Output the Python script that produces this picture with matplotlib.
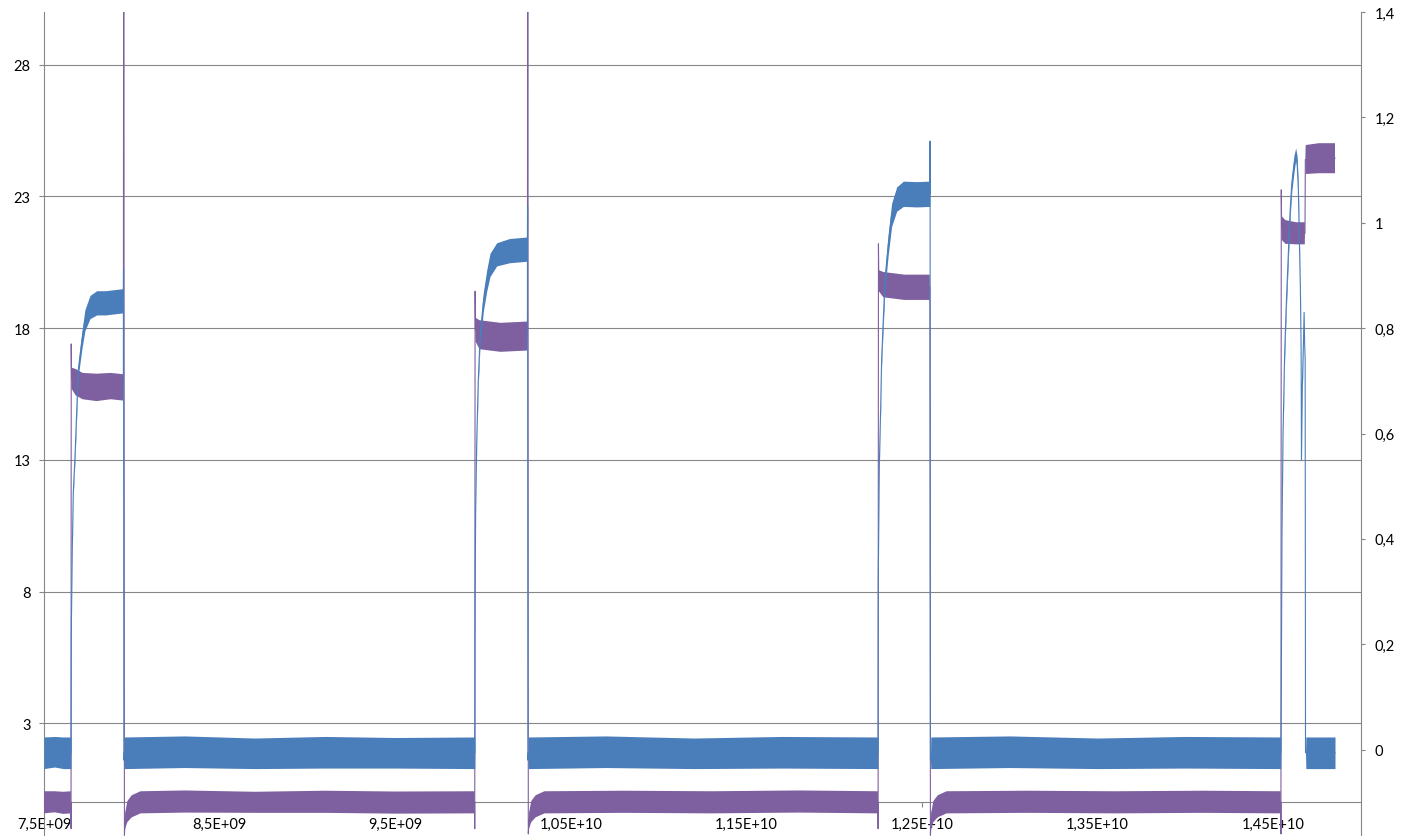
import matplotlib.pyplot as plt
import numpy as np

plt.rcParams['font.family'] = ['Lato', 'DejaVu Sans']

# x values in units of 1e9
purple_x = [7.500, 7.560, 7.610, 7.653, 7.6535, 7.654, 7.655, 7.657, 7.680, 7.720, 7.800, 7.880, 7.951,
            7.952, 7.954, 7.958, 7.962, 7.975, 8.000, 8.050, 8.300, 8.700, 9.100, 9.500, 9.952,
            9.9525, 9.953, 9.955, 9.957, 9.980, 10.100, 10.252, 10.253, 10.255, 10.258, 10.262, 10.275,
            10.300, 10.350, 10.800, 11.300, 11.800, 12.249,
            12.2495, 12.250, 12.252, 12.254, 12.280, 12.400, 12.544, 12.545, 12.548, 12.552, 12.565,
            12.590, 12.640, 13.100, 13.600, 14.100, 14.543,
            14.5435, 14.544, 14.546, 14.548, 14.570, 14.630, 14.680, 14.681, 14.683, 14.685, 14.760, 14.852]
purple_y = [0.00, 0.02, -0.02, 0.00, 0.00, -1.0, 17.4, 16.1, 15.95, 15.8, 15.75, 15.8, 15.75,
            15.75, 40.0, -1.25, -0.7, -0.35, -0.15, 0.0, 0.03, 0.0, 0.02, -0.01, 0.0,
            0.0, -1.0, 19.4, 17.95, 17.75, 17.65, 17.7, 17.7, 40.0, -1.2, -0.7, -0.35,
            -0.15, 0.0, 0.02, 0.0, 0.03, 0.0,
            0.0, -1.0, 21.2, 19.8, 19.65, 19.55, 19.55, 19.55, -1.25, -0.7, -0.35,
            -0.15, 0.0, 0.02, 0.0, 0.02, 0.0,
            0.0, -1.2, 23.25, 21.8, 21.65, 21.6, 21.6, 21.6, 24.4, 24.4, 24.45, 24.45]
purple_n = [0.42, 0.40, 0.42, 0.42, 0, 0, 0, 0.40, 0.50, 0.50, 0.52, 0.50, 0.50,
            0, 0, 0, 0.30, 0.40, 0.42, 0.42, 0.42, 0.40, 0.42, 0.42, 0.42,
            0, 0, 0, 0.45, 0.55, 0.55, 0.55, 0, 0, 0, 0.30, 0.40,
            0.42, 0.42, 0.42, 0.42, 0.42, 0.42,
            0, 0, 0, 0.40, 0.48, 0.48, 0.48, 0, 0, 0.30, 0.40,
            0.42, 0.42, 0.42, 0.42, 0.42, 0.42,
            0, 0, 0, 0.45, 0.45, 0.42, 0.42, 0, 0, 0.55, 0.57, 0.57]

blue_x = [7.500, 7.560, 7.610, 7.653, 7.654, 7.655, 7.661, 7.667, 7.677, 7.695, 7.715, 7.733, 7.762,
          7.800, 7.850, 7.900, 7.951, 7.952, 7.953, 7.955, 7.957, 8.300, 8.700, 9.100, 9.500, 9.953,
          9.954, 9.955, 9.958, 9.964, 9.973, 9.983, 10.002, 10.021, 10.040, 10.078, 10.150, 10.252,
          10.253, 10.254, 10.256, 10.258, 10.700, 11.200, 11.700, 12.249,
          12.250, 12.251, 12.257, 12.265, 12.270, 12.280, 12.289, 12.308, 12.327, 12.356, 12.394,
          12.470, 12.544, 12.545, 12.546, 12.548, 12.550, 13.000, 13.500, 14.000, 14.543,
          14.544, 14.546, 14.550, 14.556, 14.565, 14.575, 14.586, 14.596, 14.606, 14.620, 14.628,
          14.636, 14.643, 14.650, 14.655, 14.659, 14.661, 14.666, 14.672, 14.676, 14.679, 14.682,
          14.684, 14.686, 14.852]
blue_y = [-0.006, -0.004, -0.006, -0.006, -0.006, 0.21, 0.38, 0.49, 0.56, 0.72, 0.775, 0.815, 0.840,
          0.848, 0.848, 0.850, 0.852, 0.852, 0.912, -0.02, -0.006, -0.004, -0.007, -0.005, -0.006, -0.006,
          -0.006, 0.265, 0.45, 0.58, 0.70, 0.78, 0.85, 0.89, 0.92, 0.94, 0.947, 0.95,
          0.95, 1.03, -0.02, -0.006, -0.004, -0.007, -0.005, -0.006,
          -0.006, 0.324, 0.54, 0.655, 0.74, 0.82, 0.89, 0.96, 1.015, 1.045, 1.055,
          1.054, 1.055, 1.055, 1.155, -0.02, -0.006, -0.004, -0.007, -0.005, -0.006,
          -0.006, 0.11, 0.41, 0.60, 0.75, 0.85, 0.94, 1.02, 1.075, 1.115, 1.13,
          1.115, 1.065, 0.95, 0.87, 0.76, 0.55, 0.69, 0.77, 0.83, 0.77, 0.74,
          -0.006, -0.006, -0.006]
blue_n = [0.03, 0.029, 0.03, 0.03, 0, 0, 0.004, 0.006, 0.008, 0.012, 0.016, 0.02, 0.022,
          0.023, 0.023, 0.023, 0.023, 0, 0, 0, 0.03, 0.03, 0.029, 0.03, 0.029, 0.03,
          0, 0, 0.004, 0.006, 0.01, 0.014, 0.018, 0.02, 0.022, 0.022, 0.023, 0.023,
          0, 0, 0, 0.03, 0.03, 0.029, 0.03, 0.03,
          0, 0, 0.004, 0.008, 0.01, 0.014, 0.016, 0.02, 0.022, 0.023, 0.024,
          0.024, 0.024, 0, 0, 0, 0.03, 0.03, 0.029, 0.03, 0.03,
          0, 0, 0.005, 0.008, 0.012, 0.014, 0.015, 0.015, 0.015, 0.015, 0.012,
          0.012, 0.01, 0.008, 0.006, 0, 0, 0.006, 0.008, 0, 0, 0,
          0, 0.03, 0.03]

x_ticks = [7.5, 8.5, 9.5, 10.5, 11.5, 12.5, 13.5, 14.5]
x_labels = ['7,5E+09', '8,5E+09', '9,5E+09', '1,05E+10', '1,15E+10', '1,25E+10', '1,35E+10', '1,45E+10']
left_ticks = [3, 8, 13, 18, 23, 28]
right_ticks = [0, 0.2, 0.4, 0.6, 0.8, 1.0, 1.2, 1.4]
right_labels = ['0', '0,2', '0,4', '0,6', '0,8', '1', '1,2', '1,4']

BLUE = '#4a7ebb'
PURPLE = '#7e60a0'
GRAY = '#868686'

fig = plt.figure(figsize=(14.04, 8.37), dpi=100)
# plot area runs a bit below the bottom edge of the picture
ax = fig.add_axes([44 / 1404, -19 / 837, 1317 / 1404, 843 / 837])
ax2 = ax.twinx()

px = np.array(purple_x) * 1e9
py = np.array(purple_y)
pn = np.array(purple_n)
ax.fill_between(px, py - pn, py + pn, color=PURPLE, lw=0, zorder=3)
ax.plot(px, py, color=PURPLE, lw=0.8, zorder=3)

bx = np.array(blue_x) * 1e9
by = np.array(blue_y)
bn = np.array(blue_n)
ax2.fill_between(bx, by - bn, by + bn, color=BLUE, lw=0, zorder=3)
ax2.plot(bx, by, color=BLUE, lw=0.8, zorder=3)

ax.set_xlim(7.5e9, 15e9)
ax.set_ylim(-2, 30)
ax2.set_ylim(-0.2, 1.4)

ax.set_xticks([v * 1e9 for v in x_ticks], x_labels)
ax.set_yticks(left_ticks)
ax2.set_yticks(right_ticks, right_labels)

ax.set_axisbelow(True)
ax.grid(axis='y', color=GRAY, lw=0.8)

ax.spines['bottom'].set_position(('data', 0))
for s in ['top', 'right']:
    ax.spines[s].set_visible(False)
for s in ['top', 'left', 'bottom']:
    ax2.spines[s].set_visible(False)
for s in ['left', 'bottom']:
    ax.spines[s].set_color(GRAY)
    ax.spines[s].set_linewidth(0.8)
ax2.spines['right'].set_color(GRAY)
ax2.spines['right'].set_linewidth(0.8)

ax.tick_params(axis='y', direction='out', length=3.6, width=0.8, color=GRAY,
               labelsize=10.5, labelcolor='black', pad=6)
ax.tick_params(axis='x', direction='out', length=3.6, width=0.8, color=GRAY,
               labelsize=10.5, labelcolor='black', pad=7)
ax2.tick_params(axis='y', direction='out', length=3.0, width=0.8, color=GRAY,
                labelsize=10.5, labelcolor='black', pad=7)

fig.savefig('out.png', dpi=100)
